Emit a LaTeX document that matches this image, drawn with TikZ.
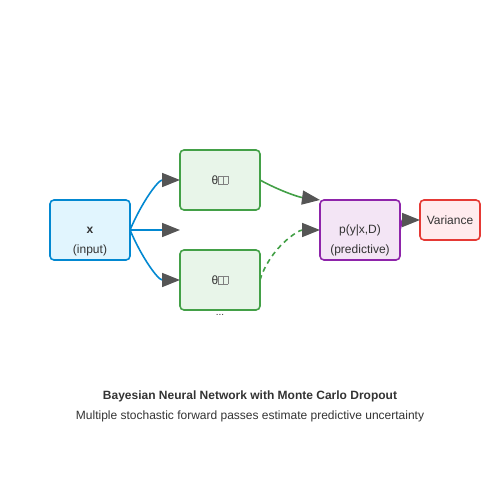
\documentclass[tikz,border=0pt]{standalone}
\usepackage{fontspec}
\setmainfont{Liberation Sans}
\usetikzlibrary{positioning}
\usetikzlibrary{arrows.meta}

\definecolor{inblue}{HTML}{0288D1}
\definecolor{infill}{HTML}{E1F5FE}
\definecolor{thgreen}{HTML}{43A047}
\definecolor{thfill}{HTML}{E8F5E9}
\definecolor{prpurple}{HTML}{8E24AA}
\definecolor{prfill}{HTML}{F3E5F5}
\definecolor{varred}{HTML}{E53935}
\definecolor{varfill}{HTML}{FFEBEE}
\definecolor{tipgray}{HTML}{555555}
\definecolor{txt}{HTML}{333333}

% missing glyph box, as the reference prints it
\newcommand{\notdef}{{\color{gray}\setlength\fboxsep{0pt}\setlength\fboxrule{0.5pt}\fbox{\rule{0pt}{8pt}\hspace{4pt}}}}

\begin{document}
\begin{tikzpicture}[x=1pt,y=-1pt,semithick,font=\fontsize{12}{14}\selectfont,text=txt,
			>={Triangle[length=18pt,width=14pt,color=tipgray]}]
			\tikzstyle{every box}=[draw,rounded corners=4pt,line width=1.6pt,align=center,outer sep=0pt]
			\tikzset{box/.style={every box,minimum width=80pt,minimum height=60pt}}
			\tikzset{flow/.style={->,line width=1.6pt}}
			
			\useasboundingbox (0,0) rectangle (500,500);
			
			\node[box,draw=inblue,fill=infill]       (x) at (90,230)                     {\strut\\[6pt]\textbf{x}\\[6pt](input)};
			\node[box,draw=thgreen,fill=thfill]      (t1)   [right=50pt of x,yshift=50pt]  {θ\notdef\notdef};
			\node[box,draw=thgreen,fill=thfill]      (t2)   [right=50pt of x,yshift=-50pt] {θ\notdef\notdef};
			\node[font=\fontsize{10}{12}\selectfont] (dots) [below=3pt of t2,inner sep=1pt] {...};
			\node[box,draw=prpurple,fill=prfill]     (pred) [right=190pt of x]             {\strut\\[6pt]p(y|x,D)\\[6pt](predictive)};
			\node[every box,draw=varred,fill=varfill,minimum width=60pt,minimum height=40pt]
			(var) [right=20pt of pred,yshift=10pt] {Variance};
			\coordinate (mid) at ([xshift=50pt]x.east);
			
			\path[flow,draw=inblue] (x.east) .. controls +(12,-28) and +(-22,0) .. (t1.west);
			\path[flow,draw=inblue] (x.east) -- (mid);
			\path[flow,draw=inblue] (x.east) .. controls +(12,28) and +(-22,0) .. (t2.west);
			\path[flow,draw=thgreen] (t1.east) .. controls +(18,10) and +(-22,-3) .. (pred.north west);
			\path[flow,draw=thgreen,dash pattern=on 5pt off 4pt] (t2.east) .. controls +(10,-32) and +(-22,0) .. (pred.west);
			\path[flow,draw=prpurple] (pred.east) .. controls +(2,-8) and +(-18,0) .. (var.west);
			
			\node[font=\fontsize{12}{14}\selectfont\bfseries] (title) at (250,396) {Bayesian Neural Network with Monte Carlo Dropout};
			\node (sub) at (250,416) {Multiple stochastic forward passes estimate predictive uncertainty};
\end{tikzpicture}
\end{document}
